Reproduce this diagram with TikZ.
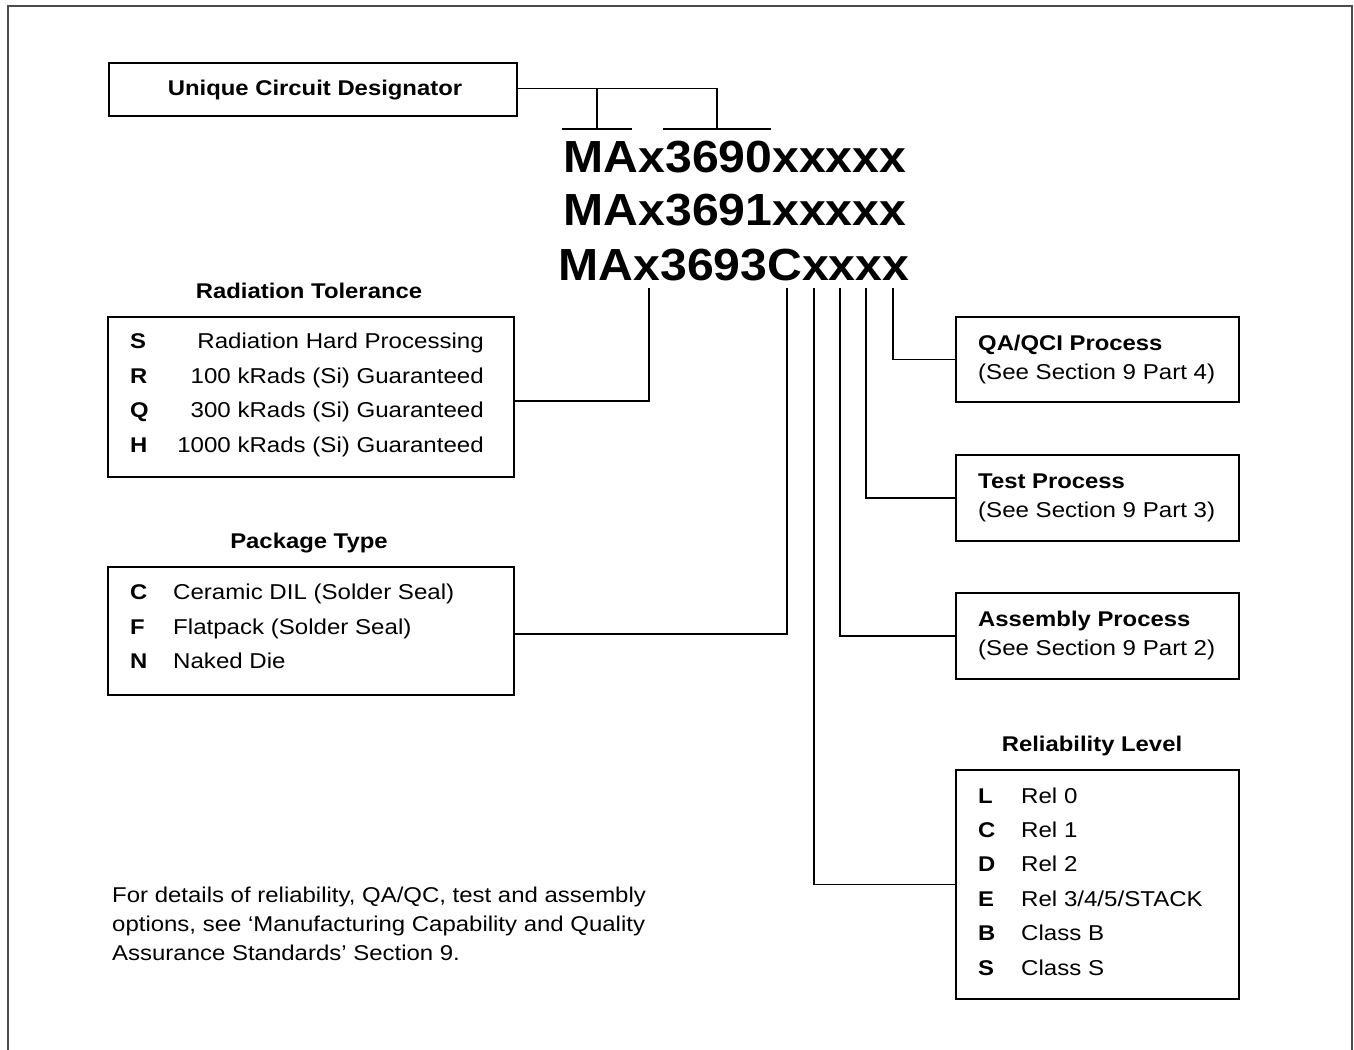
\documentclass[tikz,border=0pt]{standalone}
\usepackage{fontspec}
\setmainfont{Liberation Sans}[FakeStretch=1.12]
\newfontfamily\pnfont{Liberation Sans}[FakeStretch=1.07]
\begin{document}
\begin{tikzpicture}[x=1pt,y=-1pt,
  box/.style={draw, line width=2pt, inner sep=0pt, anchor=north west},
  conn/.style={line width=1.3pt},
  txt/.style={inner sep=0pt, font=\fontsize{21.5}{25}\selectfont},
  ttl/.style={inner sep=0pt, font=\fontsize{21.3}{25}\selectfont\bfseries, anchor=base},
  lw/.style={txt, anchor=base west},
  le/.style={txt, anchor=base east},
  ltr/.style={txt, anchor=base west, font=\fontsize{21.3}{25}\selectfont\bfseries},
  pn/.style={inner sep=0pt, font=\fontsize{45}{50}\selectfont\pnfont\bfseries, anchor=base}]
\useasboundingbox (0,0) rectangle (1354,1049);
\fill[white] (0,0) rectangle (1354,1049);
% outer frame
\draw[black!70, line width=1.5pt] (8,1070) -- (8,6) -- (1352,6) -- (1352,1070);

% Unique circuit designator
\node[box, minimum width=408pt, minimum height=53pt] (uc) at (108,62) {};
\node[ttl] (uct) at (315,95) {Unique Circuit Designator};
\coordinate (ucA) at (597,88.5);
\coordinate (ucB) at (717,88.5);
\coordinate (ucA1) at (597,129);
\coordinate (ucB1) at (717,129);
\coordinate (u1a) at (562,129);
\coordinate (u1b) at (632,129);
\coordinate (u2a) at (663,129);
\coordinate (u2b) at (771,129);
\draw[conn] (uc.east |- ucA) -- (ucB) -- (ucB1);
\draw[conn] (ucA) -- (ucA1);
\draw[conn] (u1a) -- (u1b);
\draw[conn] (u2a) -- (u2b);

% part numbers
\node[pn] (pn1) at (735,172) {MAx3690xxxxx};
\node[pn] (pn2) at (735,225) {MAx3691xxxxx};
\node[pn] (pn3) at (734,280) {MAx3693Cxxxx};

% Radiation tolerance
\node[ttl] (radt) at (309,298) {Radiation Tolerance};
\node[box, minimum width=406pt, minimum height=160pt] (rad) at (107,316) {};
\node[ltr] (rs) at (130,348) {S};
\node[ltr] (rr) at (130,383) {R};
\node[ltr] (rq) at (130,417) {Q};
\node[ltr] (rh) at (130,452) {H};
\node[le] (rs2) at (484,348) {Radiation Hard Processing};
\node[le] (rr2) at (484,383) {100 kRads (Si) Guaranteed};
\node[le] (rq2) at (484,417) {300 kRads (Si) Guaranteed};
\node[le] (rh2) at (484,452) {1000 kRads (Si) Guaranteed};

% Package type
\node[ttl] (pkt) at (309,548) {Package Type};
\node[box, minimum width=406pt, minimum height=128pt] (pkg) at (107,566) {};
\node[ltr] (pc) at (130,599) {C};
\node[ltr] (pf) at (130,634) {F};
\node[ltr] (pnn) at (130,668) {N};
\node[lw] (pc2) at (173,599) {Ceramic DIL (Solder Seal)};
\node[lw] (pf2) at (173,634) {Flatpack (Solder Seal)};
\node[lw] (pn2b) at (173,668) {Naked Die};

% QA/QCI
\node[box, minimum width=283pt, minimum height=85pt] (qa) at (955,316) {};
\node[ltr] (qat) at (978,350) {QA/QCI Process};
\node[lw] (qas) at (978,379) {(See Section 9 Part 4)};
% Test
\node[box, minimum width=283pt, minimum height=86pt] (tp) at (955,454) {};
\node[ltr] (tpt) at (978,488) {Test Process};
\node[lw] (tps) at (978,517) {(See Section 9 Part 3)};
% Assembly
\node[box, minimum width=283pt, minimum height=86pt] (ap) at (955,592) {};
\node[ltr] (apt) at (978,626) {Assembly Process};
\node[lw] (aps) at (978,655) {(See Section 9 Part 2)};

% Reliability
\node[ttl] (rlt) at (1092,751) {Reliability Level};
\node[box, minimum width=283pt, minimum height=229pt] (rl) at (955,769) {};
\node[ltr] (l1) at (978,803) {L};
\node[ltr] (l2) at (978,837) {C};
\node[ltr] (l3) at (978,871) {D};
\node[ltr] (l4) at (978,906) {E};
\node[ltr] (l5) at (978,940) {B};
\node[ltr] (l6) at (978,975) {S};
\node[lw] (m1) at (1021,803) {Rel 0};
\node[lw] (m2) at (1021,837) {Rel 1};
\node[lw] (m3) at (1021,871) {Rel 2};
\node[lw] (m4) at (1021,906) {Rel 3/4/5/STACK};
\node[lw] (m5) at (1021,940) {Class B};
\node[lw] (m6) at (1021,975) {Class S};

% connectors from part number
\coordinate (c1) at (649,288);
\coordinate (c2) at (787,288);
\coordinate (c3) at (814,288);
\coordinate (c4) at (840,288);
\coordinate (c5) at (866,288);
\coordinate (c6) at (893,288);
\draw[conn] (c1) |- ([yshift=-4pt]rad.east);
\draw[conn] (c2) |- ([yshift=-3pt]pkg.east);
\draw[conn] (c3) |- (rl.west);
\draw[conn] (c4) |- (ap.west);
\draw[conn] (c5) |- (tp.west);
\draw[conn] (c6) |- (qa.west);

% footnote
\node[lw, font=\fontsize{21.4}{24}\selectfont] (f1) at (112,902) {For details of reliability, QA/QC, test and assembly};
\node[lw, font=\fontsize{21.4}{24}\selectfont] (f2) at (112,931) {options, see ‘Manufacturing Capability and Quality};
\node[lw, font=\fontsize{21.4}{24}\selectfont] (f3) at (112,960) {Assurance Standards’ Section 9.};
\end{tikzpicture}
\end{document}
